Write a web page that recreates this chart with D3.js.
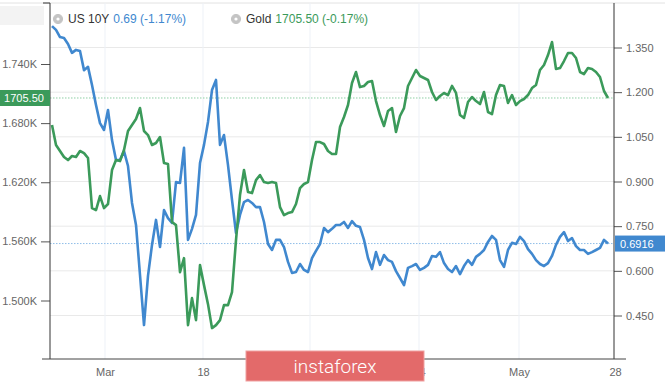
<!DOCTYPE html>
<html><head><meta charset="utf-8">
<script src="https://cdn.jsdelivr.net/npm/d3@7"></script>
<style>body{margin:0;background:#fff}svg{display:block;font-family:"Liberation Sans",Arial,sans-serif}</style>
</head><body>
<svg id="c" width="665" height="383"></svg>
<script>
const us10y = [
1.422,1.409,1.385,1.382,1.362,1.332,1.342,1.338,1.274,1.285,
1.224,1.157,1.096,1.073,1.140,1.039,0.972,0.972,1.002,0.952,
0.828,0.754,0.586,0.418,0.583,0.687,0.771,0.680,0.804,0.777,
0.761,0.898,0.895,1.013,0.704,0.741,0.788,0.962,1.023,1.100,
1.207,1.241,1.023,1.056,0.955,0.838,0.727,0.788,0.831,0.838,
0.828,0.814,0.814,0.764,0.690,0.670,0.704,0.704,0.680,0.630,
0.593,0.596,0.623,0.603,0.596,0.643,0.667,0.690,0.744,0.730,
0.741,0.754,0.754,0.764,0.744,0.767,0.751,0.747,0.704,0.643,
0.606,0.663,0.620,0.653,0.636,0.630,0.599,0.576,0.552,0.610,
0.616,0.623,0.603,0.610,0.620,0.650,0.647,0.663,0.626,0.606,
0.596,0.616,0.589,0.616,0.636,0.620,0.647,0.657,0.670,0.697,
0.717,0.704,0.636,0.613,0.670,0.694,0.690,0.714,0.700,0.673,
0.657,0.636,0.623,0.616,0.626,0.650,0.687,0.714,0.730,0.700,
0.710,0.683,0.670,0.670,0.657,0.663,0.670,0.677,0.704,0.6916];

const gold = [
1678.1,1657.8,1651.7,1645.6,1642.5,1646.6,1645.6,1651.7,1649.6,1644.6,
1593.8,1591.8,1606.0,1593.8,1597.9,1632.4,1642.5,1641.5,1652.7,1672.0,
1678.1,1684.2,1695.3,1672.0,1667.9,1657.8,1659.8,1665.9,1639.5,1638.5,
1579.6,1576.5,1528.8,1543.0,1475.0,1502.4,1480.1,1535.9,1515.6,1496.3,
1472.0,1475.0,1480.1,1495.3,1495.3,1508.5,1561.3,1607.0,1632.4,1610.0,
1609.0,1622.2,1627.3,1620.2,1619.2,1620.2,1619.2,1594.8,1586.7,1588.7,
1589.7,1597.9,1614.1,1618.2,1620.2,1642.5,1660.8,1660.8,1658.8,1651.7,
1648.6,1648.6,1676.0,1686.2,1698.4,1720.7,1731.9,1716.6,1717.7,1721.7,
1722.7,1702.4,1688.2,1677.1,1692.3,1695.3,1671.0,1687.2,1695.3,1717.7,
1725.8,1733.9,1727.8,1725.8,1723.8,1711.6,1703.5,1707.5,1710.6,1708.5,
1717.7,1710.6,1688.2,1685.2,1701.4,1706.5,1702.4,1699.4,1711.6,1691.3,
1689.2,1708.5,1718.7,1717.7,1700.4,1708.5,1698.4,1702.4,1704.5,1708.5,
1715.6,1718.7,1733.9,1739.0,1749.1,1762.3,1734.9,1735.9,1743.0,1751.2,
1751.2,1746.1,1731.9,1729.8,1735.9,1734.9,1731.9,1726.8,1712.6,1705.5];

const goldTicks = [1500, 1560, 1620, 1680, 1740];
const goldTickLabels = ["1.500K", "1.560K", "1.620K", "1.680K", "1.740K"];
const usTicks = [0.45, 0.60, 0.75, 0.90, 1.05, 1.20, 1.35];
const usTickLabels = ["0.450", "0.600", "0.750", "0.900", "1.050", "1.200", "1.350"];
const xTickAt = [13.25, 37.75, 64.5, 91.75, 116.75, 140.75];
const xTickLabels = ["Mar", "18", "Apr", "14", "May", "28"];
const lastGold = 1705.50, lastGoldLabel = "1705.50";
const lastUs = 0.6916, lastUsLabel = "0.6916";
const legendNames = ["US 10Y", "Gold"];
const legendValues = ["0.69 (-1.17%)", "1705.50 (-0.17%)"];
const watermarkText = "instaforex";

const BLUE = "#4088cf", GREEN = "#3b9a5a";
const svg = d3.select("#c");
const L = 50, R = 614, T = 3, B = 359;

const x = d3.scaleLinear().domain([0, us10y.length - 1]).range([52, 608]);
const yG = d3.scaleLinear().domain([1500, 1740]).range([300.5, 64]);
const yU = d3.scaleLinear().domain([0.45, 1.35]).range([315.5, 47.5]);

// top light line and corner box
svg.append("line").attr("x1", 0).attr("x2", 665).attr("y1", T).attr("y2", T).attr("stroke", "#e2e2e2");
svg.append("rect").attr("x", 0).attr("y", 6).attr("width", 44).attr("height", 19).attr("fill", "#f3f3f3");
svg.append("line").attr("x1", 43).attr("x2", L).attr("y1", T).attr("y2", T).attr("stroke", "#333");

// grid
svg.append("g").selectAll("line").data(usTicks).join("line")
  .attr("x1", L).attr("x2", R).attr("y1", d => yU(d)).attr("y2", d => yU(d))
  .attr("stroke", "#e9e9e9");
svg.append("g").selectAll("line").data(xTickAt.slice(0, -1)).join("line")
  .attr("x1", d => x(d)).attr("x2", d => x(d)).attr("y1", T).attr("y2", B)
  .attr("stroke", "#edf1f7");

// dotted last-value lines
svg.append("line").attr("x1", L).attr("x2", R).attr("y1", yG(lastGold)).attr("y2", yG(lastGold))
  .attr("stroke", "#8fcfa4").attr("stroke-dasharray", "1.5,1.5");
svg.append("line").attr("x1", L).attr("x2", R).attr("y1", yU(lastUs)).attr("y2", yU(lastUs))
  .attr("stroke", "#8fbde8").attr("stroke-dasharray", "1.5,1.5");

// series lines
const lineU = d3.line().x((d, i) => x(i)).y(d => yU(d));
const lineG = d3.line().x((d, i) => x(i)).y(d => yG(d));
svg.append("path").datum(us10y).attr("d", lineU).attr("fill", "none")
  .attr("stroke", BLUE).attr("stroke-width", 2.6).attr("stroke-linejoin", "round");
svg.append("path").datum(gold).attr("d", lineG).attr("fill", "none")
  .attr("stroke", GREEN).attr("stroke-width", 2.6).attr("stroke-linejoin", "round");

// axes
const axL = svg.append("g").attr("transform", `translate(${L},0)`)
  .call(d3.axisLeft(yG).tickValues(goldTicks).tickFormat((d, i) => goldTickLabels[i]).tickSize(9).tickPadding(4));
const axR = svg.append("g").attr("transform", `translate(${R},0)`)
  .call(d3.axisRight(yU).tickValues(usTicks).tickFormat((d, i) => usTickLabels[i]).tickSize(8).tickPadding(4));
const axB = svg.append("g").attr("transform", `translate(0,${B})`)
  .call(d3.axisBottom(x).tickValues(xTickAt).tickFormat((d, i) => xTickLabels[i]).tickSize(0).tickPadding(9));
[axL, axR, axB].forEach(g => {
  g.select(".domain").remove();
  g.selectAll(".tick line").attr("stroke", "#555");
  g.selectAll(".tick text").attr("fill", "#666").style("font-size", "11px")
    .style("font-family", '"Liberation Sans", Arial, sans-serif');
});
svg.append("line").attr("x1", L).attr("x2", L).attr("y1", T).attr("y2", B).attr("stroke", "#333");
svg.append("line").attr("x1", R).attr("x2", R).attr("y1", T).attr("y2", B).attr("stroke", "#333");
svg.append("line").attr("x1", 42).attr("x2", 626).attr("y1", B).attr("y2", B).attr("stroke", "#444");

// value boxes
svg.append("rect").attr("x", 0).attr("y", yG(lastGold) - 8).attr("width", L).attr("height", 16).attr("fill", GREEN);
svg.append("text").attr("x", 24).attr("y", yG(lastGold) + 4).attr("text-anchor", "middle")
  .attr("fill", "#fff").style("font-size", "11px").text(lastGoldLabel);
svg.append("rect").attr("x", R + 1).attr("y", yU(lastUs) - 8).attr("width", 50).attr("height", 16).attr("fill", BLUE);
svg.append("text").attr("x", R + 6).attr("y", yU(lastUs) + 4)
  .attr("fill", "#fff").style("font-size", "11px").text(lastUsLabel);

// legend
function gear(cx, cy) {
  const g = svg.append("g").attr("transform", `translate(${cx},${cy})`);
  for (let k = 0; k < 8; k++) {
    g.append("rect").attr("x", -1).attr("y", -5).attr("width", 2).attr("height", 10)
      .attr("fill", "#c4c4c4").attr("transform", `rotate(${k * 22.5})`);
  }
  g.append("circle").attr("r", 3.6).attr("fill", "#c4c4c4");
  g.append("circle").attr("r", 1.6).attr("fill", "#fff");
}
const legendX = [58, 236];
const legendColors = [BLUE, GREEN];
legendNames.forEach((n, i) => {
  gear(legendX[i], 19);
  const t = svg.append("text").attr("x", legendX[i] + 10).attr("y", 23)
    .attr("fill", "#333").style("font-size", "12px").text(n);
  const w = t.node().getComputedTextLength();
  svg.append("text").attr("x", legendX[i] + 10 + w + 4).attr("y", 23)
    .attr("fill", legendColors[i]).style("font-size", "12px").text(legendValues[i]);
});

// watermark
svg.append("rect").attr("x", 246).attr("y", 351).attr("width", 178).attr("height", 30)
  .attr("fill", "#e36a6a").attr("stroke", "#efa0a0").attr("stroke-width", 1);
svg.append("text").attr("x", 335).attr("y", 373).attr("text-anchor", "middle")
  .attr("fill", "#fff").style("font-family", "Roboto, sans-serif").style("font-weight", 300)
  .style("font-size", "19px").text(watermarkText);
</script>
</body></html>
